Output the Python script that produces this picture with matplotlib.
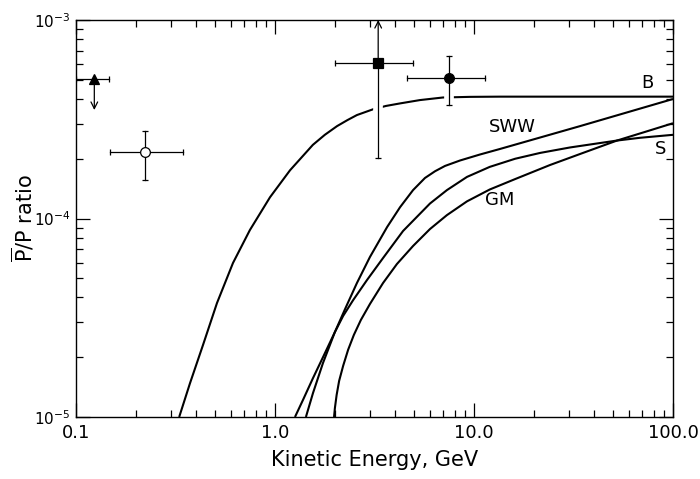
import matplotlib
matplotlib.use("Agg")
import matplotlib.pyplot as plt
import matplotlib.patheffects as pe
from matplotlib.ticker import LogLocator, NullFormatter, FixedLocator, FixedFormatter

plt.rcParams['font.family'] = ['DejaVu Sans']
plt.rcParams['mathtext.fontset'] = 'dejavusans'

# ---- theoretical curves (kinetic energy GeV, pbar/p ratio) ----
B_x = [0.330, 0.374, 0.435, 0.511, 0.615, 0.748, 0.944, 1.19, 1.55, 1.78, 2.05, 2.31, 2.58, 3.11,
       3.61, 4.25, 5.35, 6.98, 9.55, 13.5, 100.0]
B_y = [1.0e-5, 1.48e-5, 2.31e-5, 3.75e-5, 5.97e-5, 8.75e-5, 1.28e-4, 1.75e-4, 2.35e-4, 2.64e-4, 2.92e-4,
       3.13e-4, 3.32e-4, 3.55e-4, 3.69e-4, 3.80e-4, 3.95e-4, 4.07e-4, 4.10e-4, 4.11e-4, 4.11e-4]

SWW_x = [1.43, 1.552, 1.742, 2.00, 2.25, 2.58, 3.00, 3.66, 4.25, 4.94, 5.67, 6.37, 7.15, 8.51,
         10.7, 13.5, 34.1, 100.0]
SWW_y = [1.0e-5, 1.32e-5, 1.87e-5, 2.68e-5, 3.50e-5, 4.73e-5, 6.40e-5, 9.06e-5, 1.14e-4, 1.39e-4,
         1.60e-4, 1.73e-4, 1.84e-4, 1.96e-4, 2.10e-4, 2.24e-4, 2.92e-4, 4.00e-4]

S_x = [1.26, 1.383, 1.552, 1.742, 2.00, 2.20, 2.47, 2.90, 3.49, 4.40, 6.01, 7.31, 9.22, 12.0,
       16.1, 21.5, 30.4, 43.0, 52.3, 68.2, 100.0]
S_y = [1.0e-5, 1.22e-5, 1.57e-5, 2.00e-5, 2.68e-5, 3.23e-5, 3.88e-5, 4.90e-5, 6.32e-5, 8.65e-5,
       1.19e-4, 1.39e-4, 1.62e-4, 1.82e-4, 2.00e-4, 2.14e-4, 2.28e-4, 2.40e-4, 2.47e-4, 2.55e-4, 2.64e-4]

GM_x = [1.98, 2.00, 2.04, 2.10, 2.20, 2.33, 2.49, 2.70, 3.00, 3.49, 4.10, 4.94, 6.01, 7.31, 9.22,
        12.0, 16.1, 24.1, 35.3, 52.3, 72.3, 100.0]
GM_y = [1.0e-5, 1.11e-5, 1.29e-5, 1.52e-5, 1.81e-5, 2.18e-5, 2.59e-5, 3.08e-5, 3.71e-5, 4.73e-5,
        5.90e-5, 7.27e-5, 8.85e-5, 1.04e-4, 1.22e-4, 1.40e-4, 1.58e-4, 1.86e-4, 2.14e-4, 2.47e-4,
        2.73e-4, 3.02e-4]

curve_labels = ['B', 'SWW', 'S', 'GM']
label_pos = [(74.0, 4.82e-4), (15.5, 2.90e-4), (87.0, 2.24e-4), (13.4, 1.24e-4)]

# ---- measurements ----
pt_x = [0.1236, 0.222, 3.30, 7.49]
pt_y = [5.04e-4, 2.17e-4, 6.05e-4, 5.12e-4]
pt_xlo = [0.100, 0.149, 2.00, 4.62]
pt_xhi = [0.147, 0.346, 4.92, 11.35]
pt_ylo = [None, 1.56e-4, 2.02e-4, 3.73e-4]
pt_yhi = [None, 2.76e-4, None, 6.59e-4]
pt_marker = ['^', 'o', 's', 'o']
pt_face = ['black', 'white', 'black', 'black']
upper_limit_to = 3.52e-4   # arrow down for triangle
lower_limit_to = 1.0e-3    # arrow up for square

xticks = [0.1, 1.0, 10.0, 100.0]
xticklabels = ['0.1', '1.0', '10.0', '100.0']
yticks = [1e-5, 1e-4, 1e-3]
yticklabels = [r'$10^{-5}$', r'$10^{-4}$', r'$10^{-3}$']

fig = plt.figure(figsize=(7.0, 4.79), dpi=100)
ax = fig.add_axes([76/700, 1-417/479, (673-76)/700, (417-20)/479])
ax.set_xscale('log')
ax.set_yscale('log')
ax.set_xlim(0.1, 100.0)
ax.set_ylim(1e-5, 1e-3)

for cx, cy in [(B_x, B_y), (SWW_x, SWW_y), (S_x, S_y), (GM_x, GM_y)]:
    ax.plot(cx, cy, color='black', lw=1.5, solid_joinstyle='round',
            solid_capstyle='butt', zorder=2)

for lab, (lx, ly) in zip(curve_labels, label_pos):
    ax.text(lx, ly, lab, fontsize=13, ha='center', va='center', zorder=5)

white = [pe.Stroke(linewidth=7, foreground='white'), pe.Normal()]
for i in range(len(pt_x)):
    x, y = pt_x[i], pt_y[i]
    ax.plot([pt_xlo[i], pt_xhi[i]], [y, y], color='black', lw=0.9, zorder=3)
    for xe in (pt_xlo[i], pt_xhi[i]):
        ax.plot([xe], [y], marker='|', ms=5, mew=0.9, color='black', zorder=3)
    if pt_ylo[i] is not None:
        top = pt_yhi[i] if pt_yhi[i] is not None else y
        ax.plot([x, x], [pt_ylo[i], top], color='black', lw=0.9, zorder=3,
                path_effects=white)
        ax.plot([x], [pt_ylo[i]], marker='_', ms=5, mew=0.9, color='black', zorder=4)
        if pt_yhi[i] is not None:
            ax.plot([x], [pt_yhi[i]], marker='_', ms=5, mew=0.9, color='black', zorder=4)
    ax.plot([x], [y], marker=pt_marker[i], ms=7, mfc=pt_face[i], mec='black',
            mew=0.9, zorder=6)

ax.annotate('', xy=(pt_x[0], upper_limit_to), xytext=(pt_x[0], pt_y[0]),
            arrowprops=dict(arrowstyle='->', lw=0.9, color='black',
                            shrinkA=0, shrinkB=0, mutation_scale=12), zorder=4)
ax.annotate('', xy=(pt_x[2], lower_limit_to), xytext=(pt_x[2], pt_y[2]),
            arrowprops=dict(arrowstyle='->', lw=0.9, color='black',
                            shrinkA=0, shrinkB=0, mutation_scale=12), zorder=4)

ax.xaxis.set_major_locator(FixedLocator(xticks))
ax.xaxis.set_major_formatter(FixedFormatter(xticklabels))
ax.xaxis.set_minor_locator(LogLocator(base=10, subs=range(2, 10)))
ax.xaxis.set_minor_formatter(NullFormatter())
ax.yaxis.set_major_locator(FixedLocator(yticks))
ax.yaxis.set_major_formatter(FixedFormatter(yticklabels))
ax.yaxis.set_minor_locator(LogLocator(base=10, subs=range(2, 10)))
ax.yaxis.set_minor_formatter(NullFormatter())
ax.tick_params(which='both', direction='in', top=True, right=True, width=0.9)
ax.tick_params(which='major', length=10, pad=5)
ax.tick_params(axis='x', which='major', labelsize=13)
ax.tick_params(axis='y', which='major', labelsize=11, pad=4)
ax.tick_params(which='minor', length=5)
for sp in ax.spines.values():
    sp.set_linewidth(1.0)

ax.set_xlabel('Kinetic Energy, GeV', fontsize=15, labelpad=6)
ax.set_ylabel(r'$\overline{\mathrm{P}}$/P ratio', fontsize=15)
ax.yaxis.set_label_coords((37 - 76) / 597, 0.5)

fig.savefig('out.png', dpi=100)
